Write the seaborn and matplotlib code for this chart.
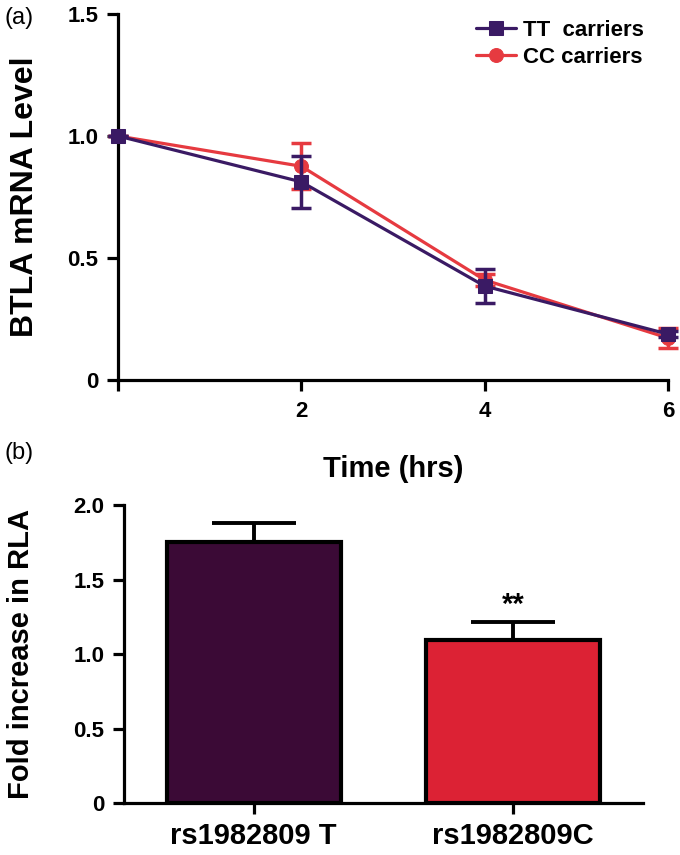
import numpy as np
import pandas as pd
import matplotlib
matplotlib.use("Agg")
import matplotlib.pyplot as plt
import seaborn as sns

# Panel (a): BTLA mRNA decay over time
time_hrs = [0, 2, 4, 6]
tt_level = [1.0, 0.812, 0.385, 0.188]
tt_err = [0.0, 0.106, 0.07, 0.012]
cc_level = [1.0, 0.876, 0.41, 0.172]
cc_err = [0.0, 0.094, 0.025, 0.042]

# Panel (b): luciferase activity
genotypes = ["rs1982809 T", "rs1982809C"]
rla_fold = [1.754, 1.095]
rla_err = [0.125, 0.118]

tt_color = "#3a1a64"
cc_color = "#e63a40"
bar_colors = ["#3b0a36", "#dc2234"]

sns.set_style("ticks")
plt.rcParams["font.family"] = ["Liberation Sans", "DejaVu Sans"]
plt.rcParams["axes.linewidth"] = 2.3
plt.rcParams["xtick.major.width"] = 2.3
plt.rcParams["ytick.major.width"] = 2.3
plt.rcParams["xtick.major.size"] = 8
plt.rcParams["ytick.major.size"] = 8
plt.rcParams["axes.edgecolor"] = "black"
plt.rcParams["xtick.color"] = "black"
plt.rcParams["ytick.color"] = "black"
plt.rcParams["text.color"] = "black"
plt.rcParams["axes.labelcolor"] = "black"

fig = plt.figure(figsize=(6.8, 8.55), dpi=100)
ax1 = fig.add_axes([118 / 680, 1 - 380 / 855, 550 / 680, 366 / 855])
ax2 = fig.add_axes([124 / 680, 1 - 803 / 855, 519 / 680, 298 / 855])

# --- panel (a) ---
df_cc = pd.DataFrame({"time": time_hrs, "level": cc_level})
df_tt = pd.DataFrame({"time": time_hrs, "level": tt_level})

ax1.errorbar(time_hrs, cc_level, yerr=cc_err, fmt="none", ecolor=cc_color,
             elinewidth=2.5, capsize=7, capthick=2.5, clip_on=False, zorder=2)
sns.lineplot(data=df_cc, x="time", y="level", ax=ax1, color=cc_color, lw=2.3,
             marker="o", markersize=10, markeredgecolor=cc_color,
             label="CC carriers", clip_on=False, zorder=3)
ax1.errorbar(time_hrs, tt_level, yerr=tt_err, fmt="none", ecolor=tt_color,
             elinewidth=2.5, capsize=7, capthick=2.5, clip_on=False, zorder=4)
sns.lineplot(data=df_tt, x="time", y="level", ax=ax1, color=tt_color, lw=2.3,
             marker="s", markersize=10, markeredgecolor=tt_color,
             label="TT carriers", clip_on=False, zorder=5)

ax1.set_xlim(0, 6)
ax1.set_ylim(0, 1.5)
ax1.set_xticks([0, 2, 4, 6])
ax1.set_xticklabels(["", "2", "4", "6"])
ax1.set_yticks([0, 0.5, 1.0, 1.5])
ax1.set_yticklabels(["0", "0.5", "1.0", "1.5"])
for lbl in ax1.get_xticklabels() + ax1.get_yticklabels():
    lbl.set_fontsize(16)
    lbl.set_fontweight("bold")
ax1.tick_params(axis="x", pad=7)
ax1.tick_params(axis="y", pad=6)
ax1.set_xlabel("Time (hrs)", fontsize=21, fontweight="bold", labelpad=24)
ax1.set_ylabel("BTLA mRNA Level", fontsize=23, fontweight="bold", labelpad=20)
sns.despine(ax=ax1)

handles, labels = ax1.get_legend_handles_labels()
order = [labels.index("TT carriers"), labels.index("CC carriers")]
ax1.legend([handles[i] for i in order], ["TT  carriers", "CC carriers"],
           loc="upper right", bbox_to_anchor=(0.98, 1.02), frameon=False,
           prop={"size": 16, "weight": "bold"}, handlelength=1.8,
           handletextpad=0.3, labelspacing=0.25, borderaxespad=0.2)

# --- panel (b) ---
df_bar = pd.DataFrame({"genotype": genotypes, "fold": rla_fold})
ax2.errorbar([0, 1], rla_fold, yerr=[[0, 0], rla_err], fmt="none",
             ecolor="black", elinewidth=2.8, capsize=30, capthick=2.8, zorder=1)
sns.barplot(data=df_bar, x="genotype", y="fold", hue="genotype",
            palette=bar_colors, saturation=1, legend=False, ax=ax2, width=0.67,
            edgecolor="black", linewidth=3, zorder=2)
ax2.set_xlim(-0.5, 1.5)
ax2.set_ylim(0, 2.0)
ax2.set_yticks([0, 0.5, 1.0, 1.5, 2.0])
ax2.set_yticklabels(["0", "0.5", "1.0", "1.5", "2.0"])
for lbl in ax2.get_yticklabels():
    lbl.set_fontsize(16)
    lbl.set_fontweight("bold")
for lbl in ax2.get_xticklabels():
    lbl.set_fontsize(21)
    lbl.set_fontweight("bold")
ax2.tick_params(axis="x", pad=6)
ax2.tick_params(axis="y", pad=6)
ax2.set_xlabel("")
ax2.set_ylabel("Fold increase in RLA", fontsize=21, fontweight="bold", labelpad=28)
sns.despine(ax=ax2)
ax2.text(1, rla_fold[1] + rla_err[1] + 0.02, "**", ha="center", va="bottom",
         fontsize=21, fontweight="bold")

fig.text(5 / 680, 1 - 18 / 855, "(a)", fontsize=17, va="center", ha="left")
fig.text(5 / 680, 1 - 453 / 855, "(b)", fontsize=17, va="center", ha="left")

fig.savefig("out.png", dpi=100)
